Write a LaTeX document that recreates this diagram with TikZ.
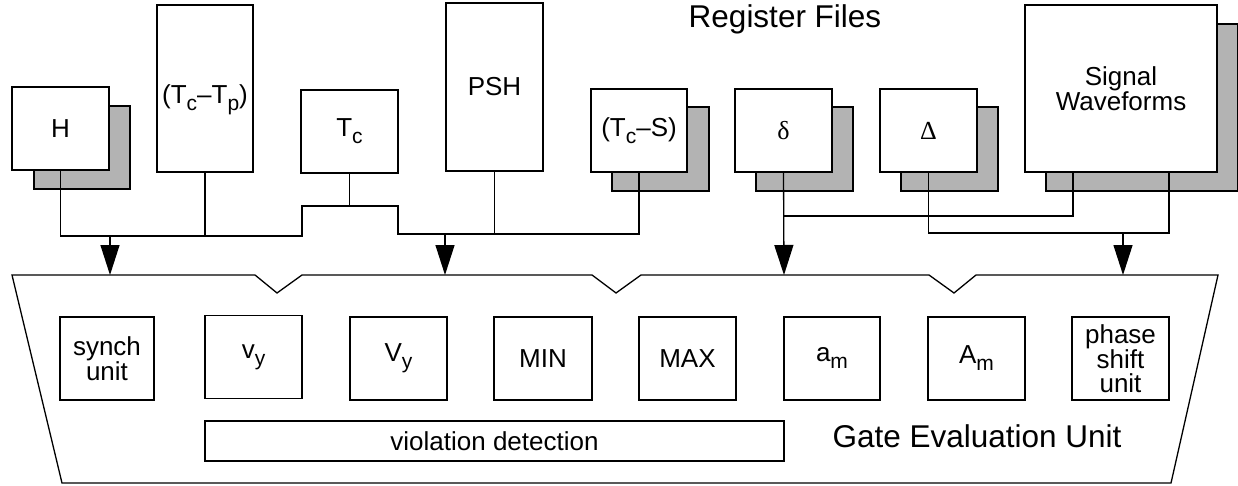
\documentclass[tikz,border=0pt]{standalone}
\usepackage{fontspec}
\setmainfont{Liberation Sans}
\newfontfamily\grfont{Liberation Serif}
\usetikzlibrary{arrows.meta}
\definecolor{shadowgray}{RGB}{179,179,179}
\newcommand\subs[1]{\raisebox{-7pt}{\fontsize{21}{21}\selectfont #1}}
\begin{document}
\begin{tikzpicture}[x=1pt,y=-1pt,
  every node/.style={inner sep=0pt, outer sep=0pt},
  lbl/.style={font=\fontsize{26}{24}\selectfont, align=center},
  regbox/.style={draw, fill=white, line width=1.3pt, lbl},
  shadowbox/.style={draw, fill=shadowgray, line width=1.3pt},
  unitbox/.style={draw, fill=white, line width=1.3pt, lbl, minimum width=96pt, minimum height=83pt},
  wire/.style={line width=1.3pt},
  arr/.style={wire, -{Triangle[length=30pt,width=19pt]}},
  title/.style={font=\fontsize{31.5}{31.5}\selectfont, anchor=base}
]
\useasboundingbox (0,0) rectangle (1238,486);

% shadows
\node[shadowbox, minimum width=96pt, minimum height=83pt] (Hs)   at (82,147.5) {};
\node[shadowbox, minimum width=97pt, minimum height=84pt] (TcSs) at (660.5,149) {};
\node[shadowbox, minimum width=97pt, minimum height=84pt] (ds)   at (804.5,149) {};
\node[shadowbox, minimum width=97pt, minimum height=84pt] (Ds)   at (949.5,149) {};
\node[shadowbox, minimum width=192pt, minimum height=167pt] (SWs) at (1142,107.5) {};

% register files
\node[regbox, minimum width=97pt, minimum height=83pt]  (H)    at (60.5,128.5) {H};
\node[regbox, minimum width=96pt, minimum height=167pt] (TcTp) at (205,88.5) {};
\node[lbl] (TcTpl) at ([yshift=-11pt]TcTp.center) {(T\subs{c}–T\subs{p})};
\node[regbox, minimum width=97pt, minimum height=83pt]  (Tc)   at (349.5,131.5) {T\subs{c}};
\node[regbox, minimum width=97pt, minimum height=168pt] (PSH)  at (494.5,87) {PSH};
\node[regbox, minimum width=96pt, minimum height=83pt]  (TcS)  at (639,130.5) {(T\subs{c}–S)};
\node[regbox, minimum width=97pt, minimum height=83pt]  (d)    at (783.5,130.5) {\grfont δ};
\node[regbox, minimum width=97pt, minimum height=83pt]  (D)    at (928.5,130.5) {\grfont Δ};
\node[regbox, minimum width=192pt, minimum height=167pt] (SW)  at (1121,88.5) {Signal\\Waveforms};

\node[title] (rf) at (785,28) {Register Files};

% gate evaluation unit outline
\coordinate (g1) at (110,275);
\coordinate (g2) at (445,275);
\coordinate (g3) at (784,275);
\coordinate (g4) at (1123,275);
\draw[wire] (12,275) -- (255,275) -- (277,293) -- (302,275) -- (592,275) -- (616,293)
  -- (641,275) -- (929,275) -- (954,293) -- (976,275) -- (1218,275) -- (1171,483)
  -- (62,483) -- cycle;

% units
\node[unitbox, minimum width=94pt, font=\fontsize{26}{17}\selectfont] (syn) at (107,358.5) {synch\\unit};
\node[unitbox, minimum width=97pt] (vy)  at (253.5,357) {v\subs{y}};
\node[unitbox, minimum width=97pt] (Vy)  at (398.5,358.5) {V\subs{y}};
\node[unitbox, minimum width=98pt] (MIN) at (543,358.5) {MIN};
\node[unitbox, minimum width=97pt] (MAX) at (687.5,358.5) {MAX};
\node[unitbox, minimum width=96pt] (am)  at (832,358.5) {a\subs{m}};
\node[unitbox, minimum width=97pt] (Am)  at (976.5,358.5) {A\subs{m}};
\node[unitbox, minimum width=97pt] (ps)  at (1120.5,358.5) {phase\\shift\\unit};
\node[regbox, minimum width=579pt, minimum height=40pt] (vd) at (494.5,441) {violation detection};
\node[title] (geu) at (977,447) {Gate Evaluation Unit};

% bus connections
\coordinate (s1) at (302,236);
\coordinate (s2) at (398,206);
\coordinate (s3) at (639,234);
\draw[wire] (H.south) |- (s1) |- (s2) |- (s3) -- (TcS.south);
\draw[wire] (TcTp.south) -- (TcTp.south |- s1);
\draw[wire] (Tc.south) -- (Tc.south |- s2);
\draw[wire] (PSH.south) -- (PSH.south |- s3);
\draw[arr] (g1 |- s1) -- (g1);
\draw[arr] (g2 |- s3) -- (g2);

\coordinate (s4) at (1073,216);
\coordinate (s5) at (1169,233);
\draw[arr] (d.south) -- (g3);
\draw[wire] (d.south |- s4) -- (s4) -- (s4 |- SW.south);
\draw[wire] (D.south) |- (s5) -- (s5 |- SW.south);
\draw[arr] (g4 |- s5) -- (g4);
\end{tikzpicture}
\end{document}
